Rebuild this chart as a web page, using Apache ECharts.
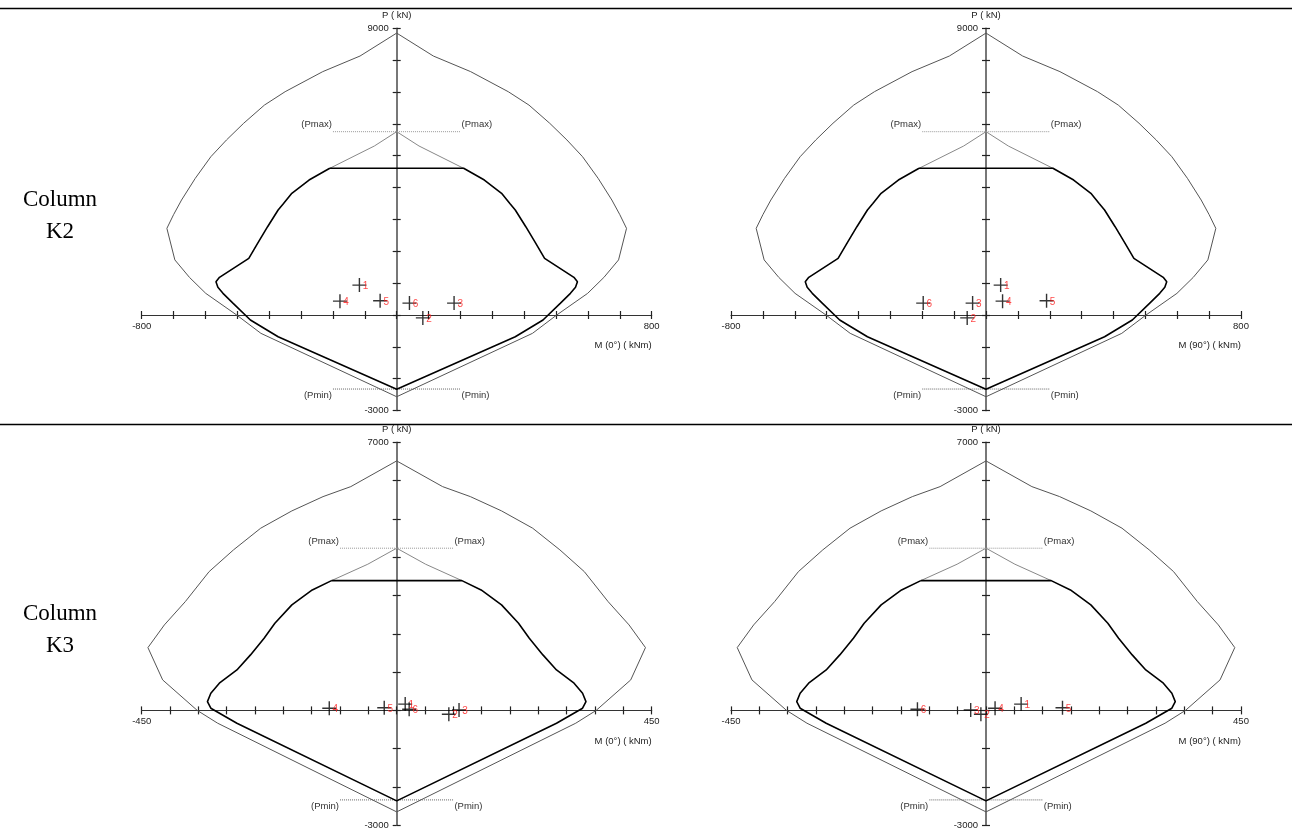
<!DOCTYPE html>
<html><head><meta charset="utf-8">
<script src="https://cdn.jsdelivr.net/npm/echarts@6/dist/echarts.min.js"></script>
<style>html,body{margin:0;padding:0;background:#fff}#c{width:1292px;height:836px}</style>
</head><body><div id="c"></div>
<script>
// ---- data ----
const pointIds = ['1', '2', '3', '4', '5', '6'];
const k2AxialLoads = [940, -90, 375, 435, 450, 375];
const k2Moments0 = [-117, 82, 180, -178, -52, 40];
const k2Moments90 = [46, -59, -42, 52, 190, -197];
const k3AxialLoads = [165, -100, 10, 55, 70, 30];
const k3Moments0 = [15, 92, 110, -119, -22, 22];
const k3Moments90 = [62, -9, -27, 16, 135, -121];

const k2Outer = [[0,8850],[-115,8130],[-232,7640],[-350,7010],[-415,6590],[-480,6020],[-534,5495],[-583,4970],[-632,4290],[-675,3610],[-700,3150],[-721,2720],[-696,1730],[-650,1180],[-599,680],[-502,0],[-426,-575],[0,-2565],
  [426,-575],[502,0],[599,680],[650,1180],[696,1730],[721,2720],[700,3150],[675,3610],[632,4290],[583,4970],[534,5495],[480,6020],[415,6590],[350,7010],[232,7640],[115,8130],[0,8850]];
const k2Inner = [[-210,4605],[-275,4238],[-329,3821],[-355,3500],[-372,3297],[-405,2772],[-435,2270],[-464,1780],[-556,1183],[-567,1046],[-561,869],[-545,681],[-513,367],[-459,-157],[-372,-681],[0,-2333],
  [372,-681],[459,-157],[513,367],[545,681],[561,869],[567,1046],[556,1183],[464,1780],[435,2270],[405,2772],[372,3297],[355,3500],[329,3821],[275,4238],[210,4605],[-210,4605]];
const k2InnerTop = [[-210,4605],[-70,5306],[0,5755],[70,5306],[210,4605]];
const k2Pmax = [[-200,5755],[200,5755]];
const k2Pmin = [[-200,-2323],[200,-2323]];

const k3Outer = [[0,6514],[-81,5843],[-130,5582],[-185,5209],[-240,4757],[-288,4191],[-331,3624],[-373,2841],[-410,2232],[-439,1640],[-413,796],[-352,0],[-316,-334],[0,-2650],
  [316,-334],[352,0],[413,796],[439,1640],[410,2232],[373,2841],[331,3624],[288,4191],[240,4757],[185,5209],[130,5582],[81,5843],[0,6514]];
const k3Inner = [[-115,3389],[-149,3146],[-185,2755],[-215,2276],[-234,1885],[-258,1449],[-282,1057],[-313,710],[-328,449],[-334,230],[-328,57],[-282,-334],[0,-2363],
  [282,-334],[328,57],[334,230],[328,449],[313,710],[282,1057],[258,1449],[234,1885],[215,2276],[185,2755],[149,3146],[115,3389],[-115,3389]];
const k3InnerTop = [[-115,3389],[-51,3817],[0,4235],[51,3817],[115,3389]];
const k3Pmax = [[-100,4235],[100,4235]];
const k3Pmin = [[-100,-2337],[100,-2337]];

const k2MomentRange = [-800, 800, 100];
const k3MomentRange = [-450, 450, 50];
const k2AxialRange = [-3000, 9000, 1000];
const k3AxialRange = [-3000, 7000, 1000];

const axisNames = ['M (0°) ( kNm)', 'M (90°) ( kNm)', 'M (0°) ( kNm)', 'M (90°) ( kNm)'];
const columnNames = ['Column\nK2', 'Column\nK3'];

// ---- layout ----
const panels = [
  {grid:{left:141.7, top:28.3, width:510, height:382.3}, xr:k2MomentRange, yr:k2AxialRange, outer:k2Outer, inner:k2Inner, top:k2InnerTop, pmax:k2Pmax, pmin:k2Pmin, M:k2Moments0, P:k2AxialLoads},
  {grid:{left:731, top:28.3, width:510, height:382.3}, xr:k2MomentRange, yr:k2AxialRange, outer:k2Outer, inner:k2Inner, top:k2InnerTop, pmax:k2Pmax, pmin:k2Pmin, M:k2Moments90, P:k2AxialLoads},
  {grid:{left:141.7, top:442.3, width:510, height:383}, xr:k3MomentRange, yr:k3AxialRange, outer:k3Outer, inner:k3Inner, top:k3InnerTop, pmax:k3Pmax, pmin:k3Pmin, M:k3Moments0, P:k3AxialLoads},
  {grid:{left:731, top:442.3, width:510, height:383}, xr:k3MomentRange, yr:k3AxialRange, outer:k3Outer, inner:k3Inner, top:k3InnerTop, pmax:k3Pmax, pmin:k3Pmin, M:k3Moments90, P:k3AxialLoads}
];

const FONT = '"Liberation Sans", Arial, sans-serif';
const grids = [], xAxes = [], yAxes = [], series = [], graphics = [];
const endOnly = (lo, hi) => v => (v === lo || v === hi) ? String(v) : '';

panels.forEach((p, i) => {
  grids.push(Object.assign({containLabel:false}, p.grid));
  const xi = xAxes.length, yi = yAxes.length;
  // axes cross at zero: shift each axis inward from the grid edge to the zero line
  const xOff = -p.grid.height * (0 - p.yr[0]) / (p.yr[1] - p.yr[0]);
  const yOff = -p.grid.width * (0 - p.xr[0]) / (p.xr[1] - p.xr[0]);
  const baseX = {type:'value', gridIndex:i, min:p.xr[0], max:p.xr[1], interval:p.xr[2], splitLine:{show:false}, position:'bottom', offset:xOff};
  const baseY = {type:'value', gridIndex:i, min:p.yr[0], max:p.yr[1], interval:p.yr[2], splitLine:{show:false}, position:'left', offset:yOff};
  xAxes.push(Object.assign({}, baseX, {
    axisLine:{onZero:false, lineStyle:{color:'#333', width:1.2}},
    axisTick:{show:true, inside:false, length:4, lineStyle:{color:'#222', width:1.2}},
    axisLabel:{show:true, interval:0, margin:6, showMinLabel:true, showMaxLabel:true, formatter:endOnly(p.xr[0], p.xr[1]), fontSize:9.5, color:'#222', fontFamily:FONT}}));
  xAxes.push(Object.assign({}, baseX, {
    axisLine:{show:false, onZero:false},
    axisTick:{show:true, inside:true, length:4, lineStyle:{color:'#222', width:1.2}},
    axisLabel:{show:false}}));
  yAxes.push(Object.assign({}, baseY, {name:'P ( kN)', nameLocation:'end', nameGap:8,
    nameTextStyle:{fontSize:9.5, color:'#222', fontFamily:FONT},
    axisLine:{onZero:false, lineStyle:{color:'#555', width:1.6}},
    axisTick:{show:true, inside:false, length:4, lineStyle:{color:'#222', width:1.2}},
    axisLabel:{show:true, interval:0, margin:8, showMinLabel:true, showMaxLabel:true, formatter:endOnly(p.yr[0], p.yr[1]), fontSize:9.5, color:'#222', fontFamily:FONT}}));
  yAxes.push(Object.assign({}, baseY, {
    axisLine:{show:false, onZero:false},
    axisTick:{show:true, inside:true, length:4, lineStyle:{color:'#222', width:1.2}},
    axisLabel:{show:false}}));

  const ax = {xAxisIndex:xi, yAxisIndex:yi};
  series.push(Object.assign({type:'line', data:p.outer, showSymbol:false, silent:true, z:3,
    lineStyle:{color:'#555', width:1}}, ax));
  series.push(Object.assign({type:'line', data:p.top, showSymbol:false, silent:true, z:3,
    lineStyle:{color:'#888', width:1}}, ax));
  series.push(Object.assign({type:'line', data:p.inner, showSymbol:false, silent:true, z:4,
    lineStyle:{color:'#000', width:1.6}}, ax));
  const refLabel = (txt, pos, dy) => ({show:true, formatter:txt, position:pos, distance:1, offset:[0, dy], fontSize:9.5, color:'#333', fontFamily:FONT});
  series.push(Object.assign({type:'line', silent:true, z:3, symbol:'circle', symbolSize:0.1, showSymbol:true,
    lineStyle:{color:'#999', width:1, type:'dotted'}, itemStyle:{color:'transparent'},
    data:[{value:p.pmax[0], label:refLabel('(Pmax)','left',-7)}, {value:p.pmax[1], label:refLabel('(Pmax)','right',-7)}]}, ax));
  series.push(Object.assign({type:'line', silent:true, z:3, symbol:'circle', symbolSize:0.1, showSymbol:true,
    lineStyle:{color:'#666', width:1, type:'dotted'}, itemStyle:{color:'transparent'},
    data:[{value:p.pmin[0], label:refLabel('(Pmin)','left',6)}, {value:p.pmin[1], label:refLabel('(Pmin)','right',6)}]}, ax));
  series.push(Object.assign({type:'scatter', z:6, silent:true,
    symbol:'path://M0,6L12,6M6,0L6,12', symbolSize:14,
    itemStyle:{color:'transparent', borderColor:'#000', borderWidth:1.4},
    label:{show:true, position:[11,4], formatter:(q) => pointIds[q.dataIndex], fontSize:10, color:'#ff1a1a', fontFamily:FONT},
    data:p.M.map((m, k) => [m, p.P[k]])}, ax));

  graphics.push({type:'text', x:p.grid.left + p.grid.width, y:(i < 2 ? 345 : 741),
    style:{text:axisNames[i], fill:'#222', font:'9.5px ' + FONT, align:'right', verticalAlign:'middle'}});
});

graphics.push({type:'line', shape:{x1:0, y1:8.5, x2:1292, y2:8.5}, style:{stroke:'#000', lineWidth:1.5}});
graphics.push({type:'line', shape:{x1:0, y1:424.5, x2:1292, y2:424.5}, style:{stroke:'#000', lineWidth:1.5}});
graphics.push({type:'text', x:60, y:216, style:{text:columnNames[0], fill:'#000', font:'23px "Liberation Serif", "Times New Roman", serif', align:'center', verticalAlign:'middle', lineHeight:32}});
graphics.push({type:'text', x:60, y:630, style:{text:columnNames[1], fill:'#000', font:'23px "Liberation Serif", "Times New Roman", serif', align:'center', verticalAlign:'middle', lineHeight:32}});

const chart = echarts.init(document.getElementById('c'), null, {renderer:'canvas'});
chart.setOption({
  animation:false,
  backgroundColor:'#fff',
  grid:grids, xAxis:xAxes, yAxis:yAxes, series:series, graphic:graphics
});
</script>
</body></html>
